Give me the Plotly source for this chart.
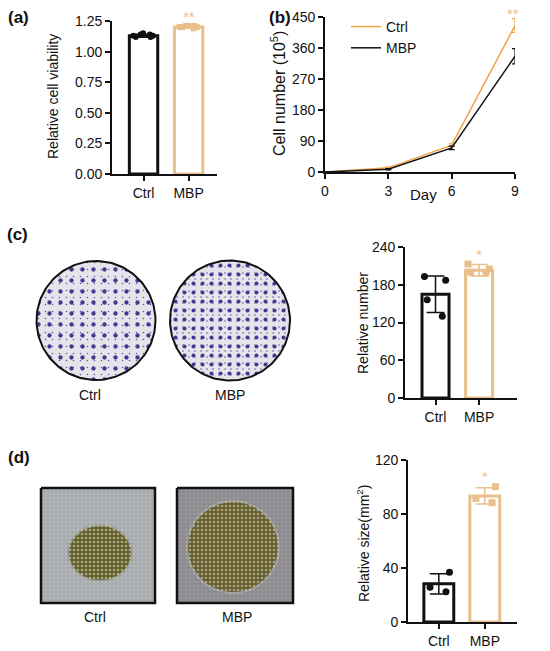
import numpy as np
import plotly.graph_objects as go

W, H = 550, 651
FONT = "Liberation Sans, Arial, sans-serif"
BLACK = "#111111"
TAN = "#E9BF8B"
ORANGE = "#F2A447"

# ---- data ----
cats = ["Ctrl", "MBP"]

# (a) relative cell viability
a_mean = [1.13, 1.20]
a_sd = [0.012, 0.008]
a_ctrl_pts = [1.12, 1.13, 1.14, 1.15, 1.13, 1.12, 1.14]
a_mbp_pts = [1.20, 1.21, 1.20, 1.21, 1.19, 1.20, 1.21]

# (b) growth curve
days = [0, 3, 6, 9]
b_ctrl = [0, 12, 78, 425]
b_ctrl_err = [0, 3, 4, 20]
b_mbp = [0, 8, 70, 336]
b_mbp_err = [0, 2, 5, 22]

# (c) colony number
c_mean = [165, 203]
c_sd = [29, 9]
c_ctrl_pts = [193, 187, 156, 130]
c_mbp_pts = [213, 205, 200, 199]

# (d) spheroid size
d_mean = [28.3, 93.4]
d_sd = [7.5, 6.0]
d_ctrl_pts = [36.8, 25.7, 22.5]
d_mbp_pts = [100.2, 91.6, 88.4]


def px(x):
    return x / W


def py(y):
    return 1 - y / H


fig = go.Figure()


def add_bars(xa, ya, means, sds, ctrl_pts, mbp_pts, width, ms):
    colors = [BLACK, TAN]
    for i, c in enumerate(cats):
        fig.add_trace(go.Bar(
            x=[c], y=[means[i]], width=width, xaxis=xa, yaxis=ya,
            marker=dict(color="white", line=dict(color=colors[i], width=3)),
            error_y=dict(type="data", array=[sds[i]], color=colors[i],
                         thickness=1.5, width=9),
            showlegend=False, hoverinfo="skip"))
    for c, pts, col, sym in [("Ctrl", ctrl_pts, BLACK, "circle"),
                             ("MBP", mbp_pts, TAN, "square")]:
        fig.add_trace(go.Box(
            x=[c] * len(pts), y=pts, xaxis=xa, yaxis=ya,
            boxpoints="all", jitter=1, pointpos=0, width=0.6,
            fillcolor="rgba(0,0,0,0)", line=dict(width=0, color="rgba(0,0,0,0)"),
            marker=dict(color=col, size=ms, symbol=sym),
            showlegend=False, hoverinfo="skip"))


add_bars("x", "y", a_mean, a_sd, a_ctrl_pts, a_mbp_pts, 0.63, 6)
add_bars("x3", "y3", c_mean, c_sd, c_ctrl_pts, c_mbp_pts, 0.62, 7)
add_bars("x4", "y4", d_mean, d_sd, d_ctrl_pts, d_mbp_pts, 0.65, 7)

# (b) lines
fig.add_trace(go.Scatter(
    x=days, y=b_ctrl, mode="lines", name="Ctrl", xaxis="x2", yaxis="y2",
    line=dict(color=ORANGE, width=1.5),
    error_y=dict(type="data", array=b_ctrl_err, color=ORANGE, thickness=1.2, width=3)))
fig.add_trace(go.Scatter(
    x=days, y=b_mbp, mode="lines", name="MBP", xaxis="x2", yaxis="y2",
    line=dict(color=BLACK, width=1.5),
    error_y=dict(type="data", array=b_mbp_err, color=BLACK, thickness=1.2, width=3)))

# ---- picture stand-ins (pixel overlay) ----
th = np.linspace(0, 2 * np.pi, 181)


def disc(cx, cy, r, ry=None):
    ry = r if ry is None else ry
    return cx + r * np.cos(th), cy + ry * np.sin(th)


def blob(x, y, bg, fg, size, sol, line=None):
    fig.add_trace(go.Scatter(
        x=x, y=y, xaxis="x5", yaxis="y5", mode="lines", fill="toself",
        fillcolor=bg, line=line or dict(width=0, color=bg),
        fillpattern=dict(shape=".", fgcolor=fg, bgcolor=bg, size=size, solidity=sol),
        showlegend=False, hoverinfo="skip"))


# colony plates
for cx, r, dens in [(96, 59.5, (11, 0.12, 7, 0.04)), (230, 60, (9, 0.16, 6, 0.06))]:
    x, y = disc(cx, 320.5, r)
    blob(x, y, "#E4E4EB", "#45368F", dens[0], dens[1])
    fig.add_trace(go.Scatter(
        x=x, y=y, xaxis="x5", yaxis="y5", mode="lines", fill="toself",
        fillcolor="rgba(0,0,0,0)", line=dict(color="#111", width=2),
        fillpattern=dict(shape=".", fgcolor="#6153AA", bgcolor="rgba(0,0,0,0)",
                         size=dens[2], solidity=dens[3]),
        showlegend=False, hoverinfo="skip"))

# spheroid squares
for x0, x1, bg, bgdot, (cx, cy, rx, ry), fg, core in [
        (41, 155, "#A9ACAF", "#B6B9BC", (100, 553, 31, 27), "#AFA86C", "#5F5D34"),
        (177, 293, "#8E8B91", "#9A979D", (233, 547, 45, 45), "#ABA46C", "#635C37")]:
    xs = [x0, x1, x1, x0, x0]
    ys = [488, 488, 603, 603, 488]
    blob(xs, ys, bg, bgdot, 4, 0.3, line=dict(color="#111", width=2.5))
    x, y = disc(cx, cy, rx + 2, ry + 2)
    blob(x, y, "#8E97A6", "#BDBB96", 4, 0.4)
    x, y = disc(cx, cy, rx, ry)
    blob(x, y, core, fg, 4, 0.35)

# ---- axes ----
axis_common = dict(showline=True, linecolor=BLACK, linewidth=1.8, ticks="outside",
                   ticklen=5, tickwidth=1.8, tickcolor=BLACK, showgrid=False,
                   zeroline=False, automargin=False,
                   tickfont=dict(size=14, color=BLACK, family=FONT))

fig.update_layout(
    template="none",
    width=W, height=H, margin=dict(l=0, r=0, t=0, b=0, pad=0),
    paper_bgcolor="white", plot_bgcolor="rgba(0,0,0,0)",
    barmode="overlay", boxmode="overlay",
    font=dict(family=FONT, color=BLACK, size=14),
    xaxis=dict(axis_common, domain=[px(112), px(217)], anchor="y",
               type="category", categoryorder="array", categoryarray=cats,
               range=[-0.70, 1.63]),
    yaxis=dict(axis_common, domain=[py(174), py(21)], anchor="x",
               range=[0, 1.25], tickvals=[0, 0.25, 0.5, 0.75, 1.0, 1.25],
               tickformat=".2f"),
    xaxis2=dict(axis_common, domain=[px(325), px(515)], anchor="y2",
                range=[0, 9], tickvals=[0, 3, 6, 9]),
    yaxis2=dict(axis_common, domain=[py(172), py(17)], anchor="x2",
                range=[0, 450], tickvals=[0, 90, 180, 270, 360, 450]),
    xaxis3=dict(axis_common, domain=[px(405), px(517)], anchor="y3",
                type="category", categoryorder="array", categoryarray=cats,
                range=[-0.70, 1.87]),
    yaxis3=dict(axis_common, domain=[py(398), py(247)], anchor="x3",
                range=[0, 240], tickvals=[0, 60, 120, 180, 240]),
    xaxis4=dict(axis_common, domain=[px(408), px(517)], anchor="y4",
                type="category", categoryorder="array", categoryarray=cats,
                range=[-0.67, 1.70]),
    yaxis4=dict(axis_common, domain=[py(622), py(460)], anchor="x4",
                range=[0, 120], tickvals=[0, 40, 80, 120]),
    xaxis5=dict(domain=[0, 1], range=[0, W], visible=False, anchor="y5",
                automargin=False),
    yaxis5=dict(domain=[0, 1], range=[H, 0], visible=False, anchor="x5",
                automargin=False),
    legend=dict(x=px(346), y=py(11), xanchor="left", yanchor="top",
                bgcolor="rgba(0,0,0,0)", font=dict(size=14), itemwidth=30,
                tracegroupgap=0),
)


def note(x, y, text, size=14, color=BLACK, angle=0, bold=False):
    if bold:
        text = "<b>" + text + "</b>"
    fig.add_annotation(x=px(x), y=py(y), xref="paper", yref="paper", text=text,
                       showarrow=False, textangle=angle,
                       font=dict(size=size, color=color, family=FONT),
                       xanchor="center", yanchor="middle")


# panel letters
note(18, 18, "(a)", 17, bold=True)
note(280, 18, "(b)", 17, bold=True)
note(17, 234, "(c)", 17, bold=True)
note(19, 457, "(d)", 17, bold=True)

# axis titles
note(53, 97, "Relative cell viability", 14, angle=-90)
note(278, 94, "Cell number (10<sup>5</sup>)", 16, angle=-90)
note(423, 195, "Day", 15)
note(363, 323, "Relative number", 14, angle=-90)
note(363, 544, "Relative size(mm<sup>2</sup>)", 14, angle=-90)

# significance marks
note(188.5, 16, "**", 15, TAN)
note(513, 14, "**", 15, TAN)
note(479, 255, "*", 15, TAN)
note(485, 476, "*", 15, TAN)

# picture labels
note(90, 395, "Ctrl", 14)
note(230, 395, "MBP", 14)
note(95, 617, "Ctrl", 14)
note(237, 617, "MBP", 14)

# the page has a default 8px body margin; drop it so the figure fills the window
fig.write_html("out.html", config={"displayModeBar": False},
               post_script="document.body.style.margin = '0px';")
